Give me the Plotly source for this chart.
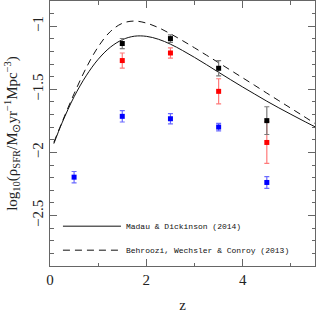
import plotly.graph_objects as go

# Observational points
blue_z = [0.5, 1.5, 2.5, 3.5, 4.5]
blue_y = [-2.196, -1.714, -1.733, -1.799, -2.238]
blue_err = [0.045, 0.045, 0.04, 0.03, 0.047]

red_z = [1.5, 2.5, 3.5, 4.5]
red_y = [-1.272, -1.212, -1.516, -1.921]
red_err = [0.06, 0.04, 0.1, 0.165]

black_z = [1.5, 2.5, 3.5, 4.5]
black_y = [-1.137, -1.098, -1.333, -1.748]
black_err = [0.04, 0.03, 0.06, 0.11]

# Curves
curve_z = [0.08, 0.25, 0.5, 0.75, 1.0, 1.25, 1.5, 1.75, 2.0, 2.25, 2.5, 2.75,
           3.0, 3.25, 3.5, 3.75, 4.0, 4.25, 4.5, 4.75, 5.0, 5.25, 5.5]
madau_y = [-1.93, -1.766, -1.559, -1.393, -1.262, -1.167, -1.107, -1.079, -1.080,
           -1.103, -1.142, -1.192, -1.247, -1.305, -1.365, -1.424, -1.482, -1.538,
           -1.594, -1.647, -1.698, -1.748, -1.797]
behroozi_y = [-1.92, -1.760, -1.535, -1.331, -1.163, -1.043, -0.977, -0.959, -0.975,
              -1.011, -1.060, -1.114, -1.171, -1.230, -1.289, -1.349, -1.409, -1.469,
              -1.530, -1.590, -1.650, -1.710, -1.771]

x_ticks = [0, 2, 4]
y_ticks = [-1, -1.5, -2, -2.5]
y_ticklabels = ["\u22121", "\u22121.5", "\u22122", "\u22122.5"]

serif = "Liberation Serif"
axis_col = "#666666"

fig = go.Figure()

fig.add_trace(go.Scatter(x=curve_z, y=madau_y, mode="lines", line=dict(color="#111111", width=1, shape="spline"),
                         name="Madau & Dickinson (2014)", legendgroup="a"))
fig.add_trace(go.Scatter(x=curve_z, y=behroozi_y, mode="lines",
                         line=dict(color="#111111", width=1, dash="7px,5px", shape="spline"),
                         name="Behroozi, Wechsler & Conroy (2013)", legendgroup="b"))

def pts(x, y, e, col, ecol):
    fig.add_trace(go.Scatter(x=x, y=y, mode="markers", showlegend=False,
                             marker=dict(symbol="square", size=5, color=col),
                             error_y=dict(type="data", array=e, color=ecol, thickness=1.2, width=2.5)))

pts(blue_z, blue_y, blue_err, "#0000ff", "#6a6aff")
pts(red_z, red_y, red_err, "#ff0000", "#ff7a7a")
pts(black_z, black_y, black_err, "#000000", "#7a7a7a")

fig.update_layout(
    width=316, height=317,
    margin=dict(l=50, r=1, t=1, b=51),
    plot_bgcolor="white", paper_bgcolor="white",
    font=dict(family=serif, size=13, color="#222222"),
    legend=dict(x=0.03, y=0.005, xanchor="left", yanchor="bottom", bgcolor="rgba(0,0,0,0)",
                font=dict(family="Liberation Mono", size=8, color="#111111"),
                tracegroupgap=5, itemwidth=58),
)
fig.update_xaxes(range=[0, 5.5], tickvals=x_ticks, ticks="inside", ticklen=7, tickcolor=axis_col,
                 showline=True, linecolor=axis_col, linewidth=1, mirror="allticks", showgrid=False,
                 zeroline=False, tickfont=dict(size=15), automargin=False,
                 minor=dict(dtick=1, ticks="inside", ticklen=3.5, tickcolor=axis_col),
                 title=dict(text="z", standoff=12, font=dict(size=15)))
fig.update_yaxes(range=[-2.9, -0.8], tickvals=y_ticks, ticktext=y_ticklabels, tickangle=-90,
                 ticks="inside", ticklen=7, tickcolor=axis_col,
                 showline=True, linecolor=axis_col, linewidth=1, mirror="allticks", showgrid=False,
                 zeroline=False, tickfont=dict(size=15), automargin=False,
                 minor=dict(dtick=0.1, ticks="inside", ticklen=3.5, tickcolor=axis_col),
                 title=dict(text="log<sub>10</sub>(\u03c1<sub>SFR</sub>/M<sub>\u2299</sub>yr<sup>\u22121</sup>Mpc<sup>\u22123</sup>)",
                            standoff=8, font=dict(size=15)))

fig.write_html("out.html", config={"displayModeBar": False},
               post_script="document.body.style.margin='0px';document.body.style.padding='0px';")
